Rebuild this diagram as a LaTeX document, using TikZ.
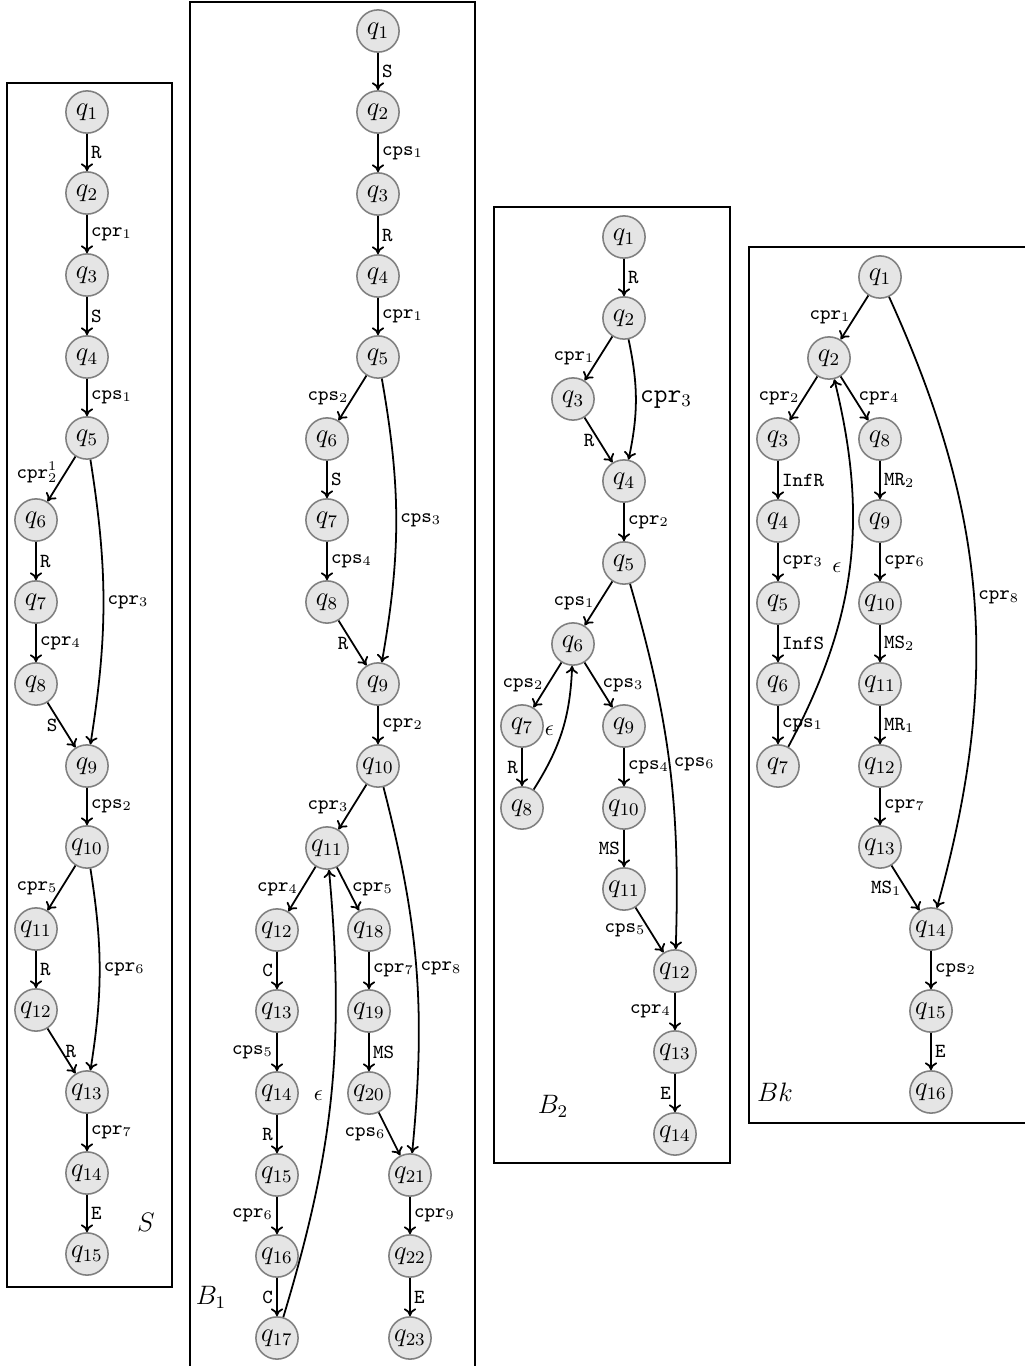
\documentclass[tikz,border=0pt]{standalone}
\usetikzlibrary{arrows.meta}
\begin{document}
\begin{tikzpicture}[
        x                       = 0.45pt,
        y                       = -0.45pt,
        state/.style            = {circle, draw=black!50, fill=black!10, line width=0.7pt, minimum size=19pt, inner sep=0pt, font=\large},
        tr/.style               = {-{To[length=3.5pt,width=5.5pt]}, line width=0.8pt},
        lbl/.style              = {font=\small\ttfamily, inner sep=1.5pt},
        box/.style              = {draw, line width=0.7pt},
        %name of each box
        bname/.style            = {font=\large},
    ]
    \useasboundingbox (0,0) rectangle (1025,1366);

    % S
    \draw[box] (7,83) rectangle (172,1287);
    \node[state] (s1) at (87,112) {$q_1$};
    \node[state] (s2) at (87,193) {$q_2$};
    \node[state] (s3) at (87,275) {$q_3$};
    \node[state] (s4) at (87,357) {$q_4$};
    \node[state] (s5) at (87,438) {$q_5$};
    \node[state] (s6) at (36,520) {$q_6$};
    \node[state] (s7) at (36,602) {$q_7$};
    \node[state] (s8) at (36,684) {$q_8$};
    \node[state] (s9) at (87,766) {$q_9$};
    \node[state] (s10) at (87,847) {$q_{10}$};
    \node[state] (s11) at (36,929) {$q_{11}$};
    \node[state] (s12) at (36,1010) {$q_{12}$};
    \node[state] (s13) at (87,1092) {$q_{13}$};
    \node[state] (s14) at (87,1173) {$q_{14}$};
    \node[state] (s15) at (87,1254) {$q_{15}$};
    \node[bname] (sname) at (146,1222) {$S$};
    \draw[tr] (s1) -- node[lbl,right] {R} (s2);
    \draw[tr] (s2) -- node[lbl,right] {cpr$_1$} (s3);
    \draw[tr] (s3) -- node[lbl,right] {S} (s4);
    \draw[tr] (s4) -- node[lbl,right] {cps$_1$} (s5);
    \draw[tr] (s5) -- node[lbl,left,yshift=3pt] {cpr$^1_2$} (s6);
    \draw[tr] (s5) to[bend left=9] node[lbl,right] {cpr$_3$} (s9);
    \draw[tr] (s6) -- node[lbl,right] {R} (s7);
    \draw[tr] (s7) -- node[lbl,right] {cpr$_4$} (s8);
    \draw[tr] (s8) -- node[lbl,left] {S} (s9);
    \draw[tr] (s9) -- node[lbl,right] {cps$_2$} (s10);
    \draw[tr] (s10) -- node[lbl,left] {cpr$_5$} (s11);
    \draw[tr] (s10) to[bend left=9] node[lbl,right] {cpr$_6$} (s13);
    \draw[tr] (s11) -- node[lbl,right] {R} (s12);
    \draw[tr] (s12) -- node[lbl,right] {R} (s13);
    \draw[tr] (s13) -- node[lbl,right] {cpr$_7$} (s14);
    \draw[tr] (s14) -- node[lbl,right] {E} (s15);

    % B_1
    \draw[box] (190,2) rectangle (475,1370);
    \node[state] (ba1) at (378,31) {$q_1$};
    \node[state] (ba2) at (378,112) {$q_2$};
    \node[state] (ba3) at (378,194) {$q_3$};
    \node[state] (ba4) at (378,276) {$q_4$};
    \node[state] (ba5) at (378,357) {$q_5$};
    \node[state] (ba6) at (327,439) {$q_6$};
    \node[state] (ba7) at (327,520) {$q_7$};
    \node[state] (ba8) at (327,602) {$q_8$};
    \node[state] (ba9) at (378,684) {$q_9$};
    \node[state] (ba10) at (378,766) {$q_{10}$};
    \node[state] (ba11) at (327,848) {$q_{11}$};
    \node[state] (ba12) at (277,930) {$q_{12}$};
    \node[state] (ba13) at (277,1011) {$q_{13}$};
    \node[state] (ba14) at (277,1093) {$q_{14}$};
    \node[state] (ba15) at (277,1175) {$q_{15}$};
    \node[state] (ba16) at (277,1256) {$q_{16}$};
    \node[state] (ba17) at (277,1338) {$q_{17}$};
    \node[state] (ba18) at (369,930) {$q_{18}$};
    \node[state] (ba19) at (369,1011) {$q_{19}$};
    \node[state] (ba20) at (369,1093) {$q_{20}$};
    \node[state] (ba21) at (410,1175) {$q_{21}$};
    \node[state] (ba22) at (410,1256) {$q_{22}$};
    \node[state] (ba23) at (410,1338) {$q_{23}$};
    \node[bname] (baname) at (211,1297) {$B_1$};
    \draw[tr] (ba1) -- node[lbl,right] {S} (ba2);
    \draw[tr] (ba2) -- node[lbl,right] {cps$_1$} (ba3);
    \draw[tr] (ba3) -- node[lbl,right] {R} (ba4);
    \draw[tr] (ba4) -- node[lbl,right] {cpr$_1$} (ba5);
    \draw[tr] (ba5) -- node[lbl,left] {cps$_2$} (ba6);
    \draw[tr] (ba5) to[bend left=10] node[lbl,right] {cps$_3$} (ba9);
    \draw[tr] (ba6) -- node[lbl,right] {S} (ba7);
    \draw[tr] (ba7) -- node[lbl,right] {cps$_4$} (ba8);
    \draw[tr] (ba8) -- node[lbl,left] {R} (ba9);
    \draw[tr] (ba9) -- node[lbl,right] {cpr$_2$} (ba10);
    \draw[tr] (ba10) -- node[lbl,left] {cpr$_3$} (ba11);
    \draw[tr] (ba10) to[bend left=10] node[lbl,right] {cpr$_8$} (ba21);
    \draw[tr] (ba11) -- node[lbl,left] {cpr$_4$} (ba12);
    \draw[tr] (ba11) -- node[lbl,right] {cpr$_5$} (ba18);
    \draw[tr] (ba12) -- node[lbl,left] {C} (ba13);
    \draw[tr] (ba13) -- node[lbl,left] {cps$_5$} (ba14);
    \draw[tr] (ba14) -- node[lbl,left] {R} (ba15);
    \draw[tr] (ba15) -- node[lbl,left] {cpr$_6$} (ba16);
    \draw[tr] (ba16) -- node[lbl,left] {C} (ba17);
    \draw[tr] (ba17) to[bend right=11] node[left] {$\epsilon$} (ba11);
    \draw[tr] (ba18) -- node[lbl,right] {cpr$_7$} (ba19);
    \draw[tr] (ba19) -- node[lbl,right] {MS} (ba20);
    \draw[tr] (ba20) -- node[lbl,left] {cps$_6$} (ba21);
    \draw[tr] (ba21) -- node[lbl,right] {cpr$_9$} (ba22);
    \draw[tr] (ba22) -- node[lbl,right] {E} (ba23);

    % B_2
    \draw[box] (494,207) rectangle (730,1163);
    \node[state] (bb1) at (624,237) {$q_1$};
    \node[state] (bb2) at (624,318) {$q_2$};
    \node[state] (bb3) at (573,399) {$q_3$};
    \node[state] (bb4) at (624,481) {$q_4$};
    \node[state] (bb5) at (624,563) {$q_5$};
    \node[state] (bb6) at (573,644) {$q_6$};
    \node[state] (bb7) at (522,726) {$q_7$};
    \node[state] (bb8) at (522,808) {$q_8$};
    \node[state] (bb9) at (624,726) {$q_9$};
    \node[state] (bb10) at (624,808) {$q_{10}$};
    \node[state] (bb11) at (624,889) {$q_{11}$};
    \node[state] (bb12) at (675,971) {$q_{12}$};
    \node[state] (bb13) at (675,1052) {$q_{13}$};
    \node[state] (bb14) at (675,1134) {$q_{14}$};
    \node[bname] (bbname) at (553,1106) {$B_2$};
    \draw[tr] (bb1) -- node[lbl,right] {R} (bb2);
    \draw[tr] (bb2) -- node[lbl,left] {cpr$_1$} (bb3);
    \draw[tr] (bb2) to[bend left=12] node[lbl,right,font=\large\ttfamily] {cpr$_3$} (bb4);
    \draw[tr] (bb3) -- node[lbl,left] {R} (bb4);
    \draw[tr] (bb4) -- node[lbl,right] {cpr$_2$} (bb5);
    \draw[tr] (bb5) -- node[lbl,left] {cps$_1$} (bb6);
    \draw[tr] (bb5) to[bend left=9] node[lbl,right] {cps$_6$} (bb12);
    \draw[tr] (bb6) -- node[lbl,left] {cps$_2$} (bb7);
    \draw[tr] (bb6) -- node[lbl,right] {cps$_3$} (bb9);
    \draw[tr] (bb7) -- node[lbl,left] {R} (bb8);
    \draw[tr] (bb8) to[bend right=15] node[left] {$\epsilon$} (bb6);
    \draw[tr] (bb9) -- node[lbl,right] {cps$_4$} (bb10);
    \draw[tr] (bb10) -- node[lbl,left] {MS} (bb11);
    \draw[tr] (bb11) -- node[lbl,left] {cps$_5$} (bb12);
    \draw[tr] (bb12) -- node[lbl,left] {cpr$_4$} (bb13);
    \draw[tr] (bb13) -- node[lbl,left] {E} (bb14);

    % Bk
    \draw[box] (749,247) rectangle (1027,1123);
    \node[state] (bk1) at (880,277) {$q_1$};
    \node[state] (bk2) at (829,358) {$q_2$};
    \node[state] (bk3) at (778,439) {$q_3$};
    \node[state] (bk4) at (778,521) {$q_4$};
    \node[state] (bk5) at (778,603) {$q_5$};
    \node[state] (bk6) at (778,684) {$q_6$};
    \node[state] (bk7) at (778,766) {$q_7$};
    \node[state] (bk8) at (880,439) {$q_8$};
    \node[state] (bk9) at (880,521) {$q_9$};
    \node[state] (bk10) at (880,603) {$q_{10}$};
    \node[state] (bk11) at (880,684) {$q_{11}$};
    \node[state] (bk12) at (880,766) {$q_{12}$};
    \node[state] (bk13) at (880,847) {$q_{13}$};
    \node[state] (bk14) at (931,929) {$q_{14}$};
    \node[state] (bk15) at (931,1011) {$q_{15}$};
    \node[state] (bk16) at (931,1092) {$q_{16}$};
    \node[bname] (bkname) at (775,1092) {$Bk$};
    \draw[tr] (bk1) -- node[lbl,left] {cpr$_1$} (bk2);
    \draw[tr] (bk1) to[bend left=20] node[lbl,right] {cpr$_8$} (bk14);
    \draw[tr] (bk2) -- node[lbl,left] {cpr$_2$} (bk3);
    \draw[tr] (bk2) -- node[lbl,right] {cpr$_4$} (bk8);
    \draw[tr] (bk3) -- node[lbl,right] {InfR} (bk4);
    \draw[tr] (bk4) -- node[lbl,right] {cpr$_3$} (bk5);
    \draw[tr] (bk5) -- node[lbl,right] {InfS} (bk6);
    \draw[tr] (bk6) -- node[lbl,right] {cps$_1$} (bk7);
    \draw[tr] (bk7) to[bend right=21] node[left] {$\epsilon$} (bk2);
    \draw[tr] (bk8) -- node[lbl,right] {MR$_2$} (bk9);
    \draw[tr] (bk9) -- node[lbl,right] {cpr$_6$} (bk10);
    \draw[tr] (bk10) -- node[lbl,right] {MS$_2$} (bk11);
    \draw[tr] (bk11) -- node[lbl,right] {MR$_1$} (bk12);
    \draw[tr] (bk12) -- node[lbl,right] {cpr$_7$} (bk13);
    \draw[tr] (bk13) -- node[lbl,left] {MS$_1$} (bk14);
    \draw[tr] (bk14) -- node[lbl,right] {cps$_2$} (bk15);
    \draw[tr] (bk15) -- node[lbl,right] {E} (bk16);
\end{tikzpicture}
\end{document}
